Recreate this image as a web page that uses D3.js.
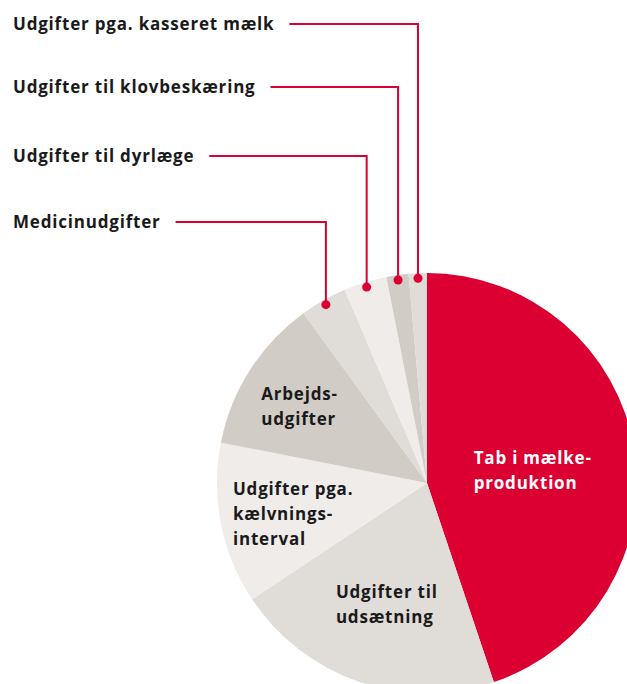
<html>
<head>
    <script src="https://d3js.org/d3.v7.min.js"></script>
    <style>
        body { margin: 0; background: #fff; }
        .label {
            font-family: "Open Sans", sans-serif;
            font-size: 17px;
            font-weight: bold;
            letter-spacing: 0.8px;
            fill: #1a1a1a;
        }
        .leader {
            fill: none;
            stroke: #dc0032;
            stroke-width: 2;
        }
    </style>
</head>
<body>
    <svg id="chart"></svg>

    <script>
        // slices, clockwise from 12 o'clock (share of total cost, %)
        const categories = [
            "Tab i mælkeproduktion",
            "Udgifter til udsætning",
            "Udgifter pga. kælvningsinterval",
            "Arbejdsudgifter",
            "Medicinudgifter",
            "Udgifter til dyrlæge",
            "Udgifter til klovbeskæring",
            "Udgifter pga. kasseret mælk"
        ];
        const values = [44.8, 20.8, 12.4, 11.9, 3.6, 3.3, 1.7, 1.4];

        // text shown inside the big slices (null = called out on the left)
        const innerLines = [
            ["Tab i mælke-", "produktion"],
            ["Udgifter til", "udsætning"],
            ["Udgifter pga.", "kælvnings-", "interval"],
            ["Arbejds-", "udgifter"],
            null, null, null, null
        ];
        const colors = ["#dc0032", "#e0dcd8", "#efecea", "#d2ccc6", "#e0dcd8", "#efecea", "#d2ccc6", "#e0dcd8"];
        const labelRadius = [0.51, 0.59, 0.65, 0.72];  // fraction of radius for inner labels
        const calloutY = [222, 156, 87, 24];           // label rows for the small slices

        const width = 627, height = 684;
        const cx = 427, cy = 483, radius = 210;

        const svg = d3.select("#chart")
            .attr("width", width)
            .attr("height", height);

        const data = categories.map((c, i) => ({ name: c, value: values[i], lines: innerLines[i], i }));

        const pie = d3.pie().sort(null).value(d => d.value);
        const arc = d3.arc().innerRadius(0).outerRadius(radius);
        const arcs = pie(data);

        const g = svg.append("g").attr("transform", `translate(${cx},${cy})`);

        g.selectAll("path")
            .data(arcs)
            .enter()
            .append("path")
            .attr("d", arc)
            .attr("fill", d => colors[d.data.i]);

        // inner labels, left aligned, block centred on a point along the mid angle
        arcs.filter(d => d.data.lines).forEach(d => {
            const mid = (d.startAngle + d.endAngle) / 2;
            const r = radius * labelRadius[d.data.i];
            const px = r * Math.sin(mid), py = -r * Math.cos(mid);
            const lineH = 25;
            const t = g.append("text")
                .attr("class", "label")
                .style("fill", d.data.i === 0 ? "#fff" : "#1a1a1a");
            d.data.lines.forEach((ln, k) => {
                t.append("tspan")
                    .attr("x", 0)
                    .attr("y", py - (d.data.lines.length - 1) * lineH / 2 + k * lineH + 10.5)
                    .text(ln);
            });
            const w = t.node().getBBox().width;
            t.selectAll("tspan").attr("x", px - w / 2);
        });

        // call-outs for the four small slices
        const small = arcs.filter(d => !d.data.lines);
        small.forEach((d, k) => {
            const mid = (d.startAngle + d.endAngle) / 2;
            const r = radius - 5;
            const dx = cx + r * Math.sin(mid), dy = cy - r * Math.cos(mid);
            const ly = calloutY[k];

            const t = svg.append("text")
                .attr("class", "label")
                .attr("x", 13)
                .attr("y", ly + 6)
                .text(d.data.name);
            const tw = t.node().getComputedTextLength();

            svg.append("path")
                .attr("class", "leader")
                .attr("d", `M${13 + tw + 15},${ly}H${dx}V${dy}`);

            svg.append("circle")
                .attr("cx", dx)
                .attr("cy", dy)
                .attr("r", 4.5)
                .attr("fill", "#dc0032");
        });
    </script>
</body>
</html>
